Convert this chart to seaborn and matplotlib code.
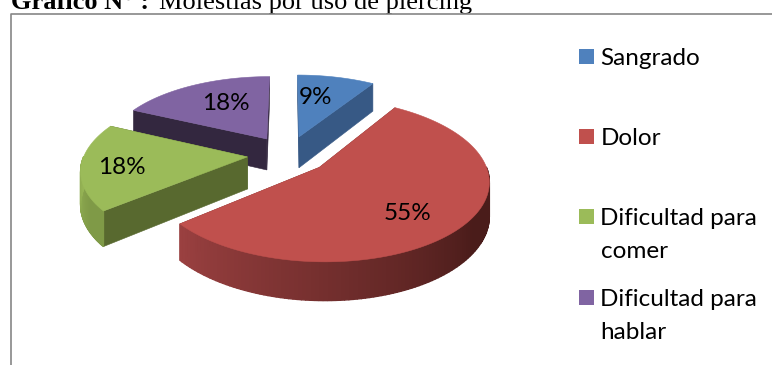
import numpy as np
import matplotlib
matplotlib.use("Agg")
import matplotlib.pyplot as plt
from matplotlib.patches import Polygon, Rectangle
from matplotlib.colors import to_rgb
import seaborn as sns

# Survey results
categories = ["Sangrado", "Dolor", "Dificultad para\ncomer", "Dificultad para\nhablar"]
shares = [9, 55, 18, 18]
percent_labels = ["9%", "55%", "18%", "18%"]

# Colours for each slice: top face, cut face, wall at each end of its arc
top_colors = ["#4F81BD", "#C0504D", "#9BBB59", "#8064A2"]
cut_colors = ["#375985", "#7A2F2C", "#58692F", "#33273F"]
wall_start = ["#375985", "#4A1C1A", "#7F9A47", "#33273F"]
wall_end = ["#375985", "#9A4040", "#96B455", "#33273F"]

# Pie geometry, in pixels on a 772x365 canvas
CX, CY = 288, 154.5
RX, RY = 163, 76
TILT = 0.15
EXPLODE = 0.25
DEPTH = 32
WALL_FLAT = 0.25  # leading part of each wall that keeps its starting shade
label_xy = [(316, 98), (408, 213), (122, 168), (226, 103)]
legend_y = [57, 137, 217, 298]
LINE_STEP = 33

sns.set_theme(style="white")
palette = sns.color_palette(top_colors)

fig = plt.figure(figsize=(7.72, 3.65), dpi=100)
ax = fig.add_axes([0, 0, 1, 1])
ax.set_xlim(0, 772)
ax.set_ylim(365, 0)
ax.axis("off")


def project(x, y):
    # x runs to the right, y towards the viewer, both in disc units
    s = 1 / (1 - TILT * y)
    return CX + x * RX * s, CY + y * RY * s, s


def face(points, color, z, lw=0.4):
    ax.add_patch(Polygon(points, closed=True, facecolor=color, edgecolor=color,
                         linewidth=lw, zorder=z))


edges = np.cumsum([0] + shares) / sum(shares) * 2 * np.pi
draw_order = [3, 0, 2, 1]

for rank, i in enumerate(draw_order):
    a0, a1 = edges[i], edges[i + 1]
    mid = (a0 + a1) / 2
    ox, oy = EXPLODE * np.sin(mid), -EXPLODE * np.cos(mid)
    angles = np.linspace(a0, a1, 160)
    rim = [(ox + np.sin(a), oy - np.cos(a)) for a in angles]
    z = 2 + rank * 3

    ax_px, ay_px, a_s = project(ox, oy)
    rim_px = [project(x, y) for x, y in rim]

    # Cut faces running from the apex out to each end of the arc
    for px, py, ps in (rim_px[0], rim_px[-1]):
        face([(ax_px, ay_px), (px, py), (px, py + DEPTH * ps),
              (ax_px, ay_px + DEPTH * a_s)], cut_colors[i], z)

    # Outer wall, shaded along its visible part, only where it faces the viewer
    c0, c1 = np.array(to_rgb(wall_start[i])), np.array(to_rgb(wall_end[i]))
    visible = [k for k in range(len(rim_px) - 1)
               if rim[k][1] - oy > 0 or rim[k + 1][1] - oy > 0]
    for n, k in enumerate(visible):
        t = n / max(len(visible) - 1, 1)
        t = max(0.0, (t - WALL_FLAT) / (1 - WALL_FLAT))
        p, q = rim_px[k], rim_px[k + 1]
        face([(p[0], p[1]), (q[0], q[1]), (q[0], q[1] + DEPTH * q[2]),
              (p[0], p[1] + DEPTH * p[2])], tuple(c0 + (c1 - c0) * t), z + 1, lw=1.0)

    # Top face
    face([(ax_px, ay_px)] + [(p[0], p[1]) for p in rim_px], palette[i], z + 2)

for (x, y), text in zip(label_xy, percent_labels):
    ax.text(x, y, text, ha="center", va="center", fontsize=17.5,
            family="Lato", color="black", zorder=40)

# Legend, one swatch and one or two baseline-aligned lines per entry
for y, name, color in zip(legend_y, categories, palette):
    ax.add_patch(Rectangle((579, y - 8), 15, 15, facecolor=color, edgecolor="none", zorder=40))
    for n, line in enumerate(name.split("\n")):
        ax.text(600.5, y + 8 + n * LINE_STEP, line, ha="left", va="baseline", fontsize=17.5,
                family="Lato", color="black", zorder=40)

# Chart frame, open at the right and bottom
ax.plot([10.5, 10.5, 772], [365, 13.5, 13.5], color="#868686", linewidth=1.2, zorder=50)

# Caption above the frame
ax.text(11, 9, "Gráfico N° :", ha="left", va="baseline", fontsize=19,
        family="Liberation Serif", weight="bold", color="black")
ax.text(159, 9, "Molestias por uso de piercing", ha="left", va="baseline", fontsize=19,
        family="Liberation Serif", color="black")

fig.savefig("out.png", dpi=100)
